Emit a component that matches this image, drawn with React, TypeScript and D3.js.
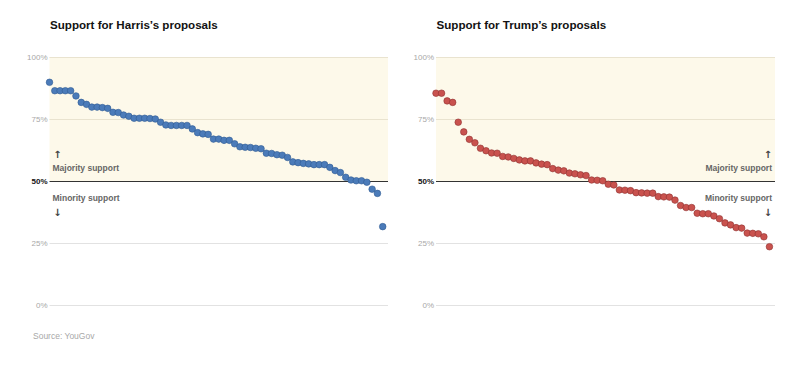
import React from "react";
import * as d3 from "d3";

const titles = ["Support for Harris\u2019s proposals", "Support for Trump\u2019s proposals"];
const harrisValues = [
  89.8, 86.4, 86.4, 86.4, 86.4, 84.3, 81.7, 80.9, 79.8, 79.8,
  79.6, 79.3, 77.7, 77.6, 76.6, 76.1, 75.3, 75.3, 75.3, 75.2,
  75.0, 73.7, 72.6, 72.4, 72.4, 72.4, 72.4, 71.0, 69.5, 69.0,
  68.8, 66.9, 66.9, 66.4, 66.4, 65.0, 63.8, 63.6, 63.5, 63.2,
  63.0, 61.2, 61.1, 60.6, 60.4, 59.5, 57.7, 57.4, 57.1, 56.9,
  56.6, 56.6, 56.6, 55.5, 54.2, 53.4, 51.5, 50.4, 50.1, 50.1,
  49.5, 46.7, 45.0, 31.6,
];
const trumpValues = [
  85.4, 85.4, 82.3, 81.7, 73.7, 69.8, 66.8, 65.4, 63.2, 62.2,
  61.3, 61.2, 59.9, 59.7, 59.1, 58.5, 58.1, 58.1, 57.3, 56.8,
  56.6, 55.0, 54.4, 54.1, 53.2, 52.9, 52.5, 52.2, 50.4, 50.3,
  50.1, 48.7, 48.4, 46.4, 46.3, 46.1, 45.3, 45.2, 45.1, 45.1,
  43.7, 43.6, 43.5, 42.3, 40.1, 39.3, 39.3, 37.0, 36.8, 36.8,
  35.9, 34.8, 33.1, 32.3, 31.2, 31.0, 29.0, 28.9, 28.7, 27.5,
  23.5,
];
const yTicks = [0, 25, 50, 75, 100];
const tickLabels = ["0%", "25%", "50%", "75%", "100%"];
const source = "Source: YouGov";

const FONT = "'Liberation Sans', Arial, Helvetica, sans-serif";

const panels = [
  { title: titles[0], values: harrisValues, x0: 49.5, w: 338.5, fill: "#4b7bb9", stroke: "#2f5b92", labelSide: "left" },
  { title: titles[1], values: trumpValues, x0: 436, w: 339, fill: "#c9524e", stroke: "#8e3330", labelSide: "right" },
];

const y = d3.scaleLinear().domain([0, 100]).range([305, 57]);

function Panel({ p }: { p: any }) {
  const n = p.values.length;
  const x = d3.scaleLinear().domain([0, n]).range([p.x0, p.x0 + p.w]);
  const left = p.labelSide === "left";
  const lx = left ? p.x0 + 3 : p.x0 + p.w - 3;
  const anchor = left ? "start" : "end";
  const ax = left ? p.x0 + 8 : p.x0 + p.w - 7;
  return (
    <g>
      <text x={p.x0 + 0.5} y={29} fontFamily={FONT} fontWeight={700} fontSize={11.6} fill="#121212">
        {p.title}
      </text>
      <rect x={p.x0} y={y(100)} width={p.w} height={y(50) - y(100)} fill="#fdf9ea" />
      {yTicks.map((t, i) => (
        <g key={t}>
          <line
            x1={p.x0}
            x2={p.x0 + p.w}
            y1={y(t) + 0.5}
            y2={y(t) + 0.5}
            stroke={t === 50 ? "#333" : t > 50 ? "#e9e3cf" : "#e2e2e2"}
            strokeWidth={1}
          />
          <text
            x={p.x0 - 2}
            y={y(t)}
            dy="0.35em"
            textAnchor="end"
            fontFamily={FONT}
            fontSize={8}
            fontWeight={t === 50 ? 700 : 400}
            fill={t === 50 ? "#121212" : "#a8a8a8"}
          >
            {tickLabels[i]}
          </text>
        </g>
      ))}
      <text x={ax} y={158} textAnchor="middle" fontFamily="'DejaVu Sans', sans-serif" fontSize={10} fontWeight={700} fill="#444">↑</text>
      <text x={lx} y={171} textAnchor={anchor} fontFamily={FONT} fontSize={8.5} fontWeight={700} fill="#666">Majority support</text>
      <text x={lx} y={201} textAnchor={anchor} fontFamily={FONT} fontSize={8.5} fontWeight={700} fill="#666">Minority support</text>
      <text x={ax} y={216} textAnchor="middle" fontFamily="'DejaVu Sans', sans-serif" fontSize={10} fontWeight={700} fill="#444">↓</text>
      {p.values.map((v: number, i: number) => (
        <circle key={i} cx={x(i)} cy={y(v)} r={3.3} fill={p.fill} stroke={p.stroke} strokeWidth={0.6} />
      ))}
    </g>
  );
}

export default function App() {
  return (
    <svg
      width={800}
      height={369}
      style={{ position: "absolute", left: 0, top: 0, background: "#fff" }}
    >
      {panels.map((p) => (
        <Panel key={p.title} p={p} />
      ))}
      <text x={33} y={339} fontFamily={FONT} fontSize={8.5} fill="#a8a8a8">
        {source}
      </text>
    </svg>
  );
}
